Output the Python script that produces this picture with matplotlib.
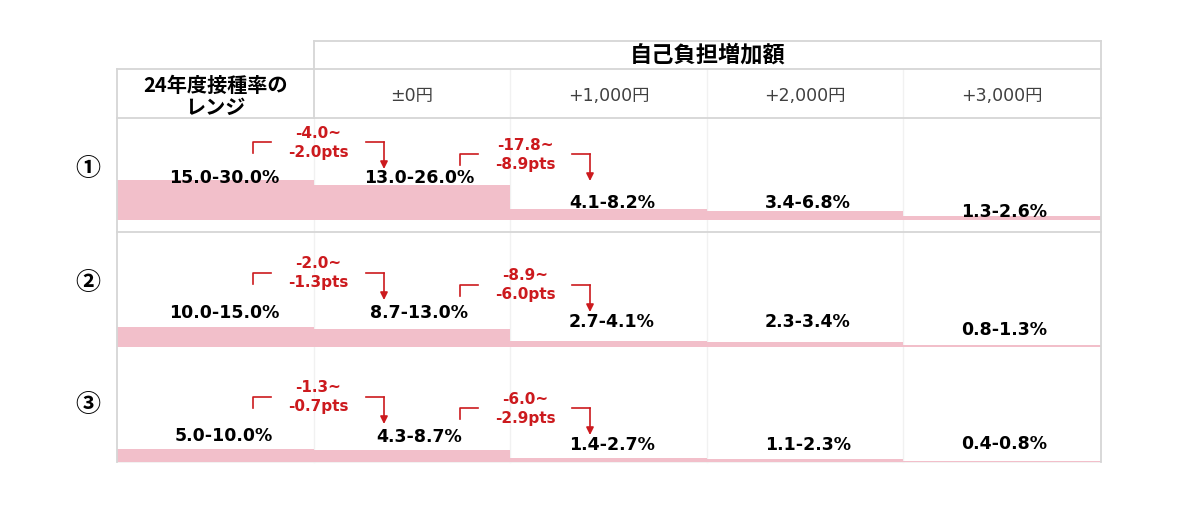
import matplotlib.pyplot as plt

plt.rcParams['font.family'] = ['DejaVu Sans', 'Noto Sans CJK JP']

# ---- data ----
header_top = '自己負担増加額'
range_head = ['24年度接種率の', 'レンジ']
col_labels = ['±0円', '+1,000円', '+2,000円', '+3,000円']
row_marks = ['①', '②', '③']

# 接種率レンジ 下限 / 上限 (%)
low = [
    [15.0, 13.0, 4.1, 3.4, 1.3],
    [10.0, 8.7, 2.7, 2.3, 0.8],
    [5.0, 4.3, 1.4, 1.1, 0.4],
]
high = [
    [30.0, 26.0, 8.2, 6.8, 2.6],
    [15.0, 13.0, 4.1, 3.4, 1.3],
    [10.0, 8.7, 2.7, 2.3, 0.8],
]

# ---- layout (pixels) ----
X = [117, 314, 510, 707, 903, 1101]
cx = [(X[i] + X[i + 1]) / 2 for i in range(5)]
cw = [X[i + 1] - X[i] for i in range(5)]
base = [220, 347, 462]
scale = 1.35
label_x = [224, 419, 612, 808, 1004]
label_y = [[178, 178, 203, 203, 212],
           [313, 313, 322, 322, 330],
           [436, 437, 445, 445, 444]]
bracket_y = [[142, 154], [273, 285], [397, 408]]
br_left = [-61, -50]
br_right = [52, 62]
br_text = [4, 15]
mark_y = [169, 283, 405]

red = '#cc1a1e'
pink = '#f2bfca'
grid = '#d6d6d6'
faint = '#f1f1f1'

fig = plt.figure(figsize=(12, 5.07), dpi=100)
ax = fig.add_axes([0, 0, 1, 1])
ax.set_xlim(0, 1200)
ax.set_ylim(507, 0)
ax.axis('off')

# table lines
ax.plot([X[1], X[5]], [41, 41], color=grid, lw=1.3)
ax.plot([X[0], X[5]], [69, 69], color=grid, lw=1.3)
ax.plot([X[0], X[5]], [118, 118], color=grid, lw=1.3)
ax.plot([X[0], X[5]], [232, 232], color=grid, lw=1.3)
ax.plot([X[0], X[5]], [462, 462], color=faint, lw=1.3, zorder=0.5)
ax.plot([X[1], X[1]], [41, 118], color=grid, lw=1.3)
ax.plot([X[0], X[0]], [69, 462], color=grid, lw=1.3)
ax.plot([X[5], X[5]], [41, 462], color=grid, lw=1.3)
ax.plot([X[1], X[1]], [118, 462], color=faint, lw=1.0, zorder=0.5)
for x in X[2:5]:
    ax.plot([x, x], [69, 462], color=faint, lw=1.0, zorder=0.5)

# headers
ax.text((X[1] + X[5]) / 2, 55, header_top, ha='center', va='center',
        fontsize=16, fontweight='bold', family=['Noto Sans CJK JP'])
ax.text(cx[0], 85, range_head[0], ha='center', va='center',
        fontsize=14.5, fontweight='bold', family=['Noto Sans CJK JP'])
ax.text(cx[0], 107, range_head[1], ha='center', va='center',
        fontsize=14.5, fontweight='bold', family=['Noto Sans CJK JP'])
for i, lab in enumerate(col_labels):
    ax.text(cx[i + 1], 96, lab, ha='center', va='center', fontsize=12.5,
            color='#404040')

for r in range(3):
    ax.text(88, mark_y[r], row_marks[r], ha='center', va='center',
            fontsize=18, fontweight='bold', family=['Noto Sans CJK JP'])

    ax.bar(cx, [-h * scale for h in high[r]], width=cw, bottom=base[r],
           color=pink, linewidth=0)

    for c in range(5):
        ax.text(label_x[c], label_y[r][c], f'{low[r][c]:.1f}-{high[r][c]:.1f}%',
                ha='center', va='center', fontsize=12.5, fontweight='bold')

    # 変化幅
    for t in range(2):
        d_hi = high[r][t + 1] - high[r][t]
        d_lo = low[r][t + 1] - low[r][t]
        bx = X[t + 1]
        ty = bracket_y[r][t]
        lx = bx + br_left[t]
        rx = bx + br_right[t]
        ax.plot([lx, lx, lx + 18], [ty + 11, ty, ty], color=red, lw=1.2)
        ax.plot([rx, rx + 18], [ty, ty], color=red, lw=1.2)
        ax.annotate('', xy=(rx + 18, ty + 27), xytext=(rx + 18, ty),
                    arrowprops=dict(arrowstyle='-|>', color=red, lw=1.2,
                                    mutation_scale=11, shrinkA=0, shrinkB=0))
        ax.text(bx + br_text[t], ty - 9, f'{d_hi:.1f}~', ha='center',
                va='center', fontsize=11, fontweight='bold', color=red)
        ax.text(bx + br_text[t], ty + 10, f'{d_lo:.1f}pts', ha='center',
                va='center', fontsize=11, fontweight='bold', color=red)

fig.savefig('out.png', dpi=100)
